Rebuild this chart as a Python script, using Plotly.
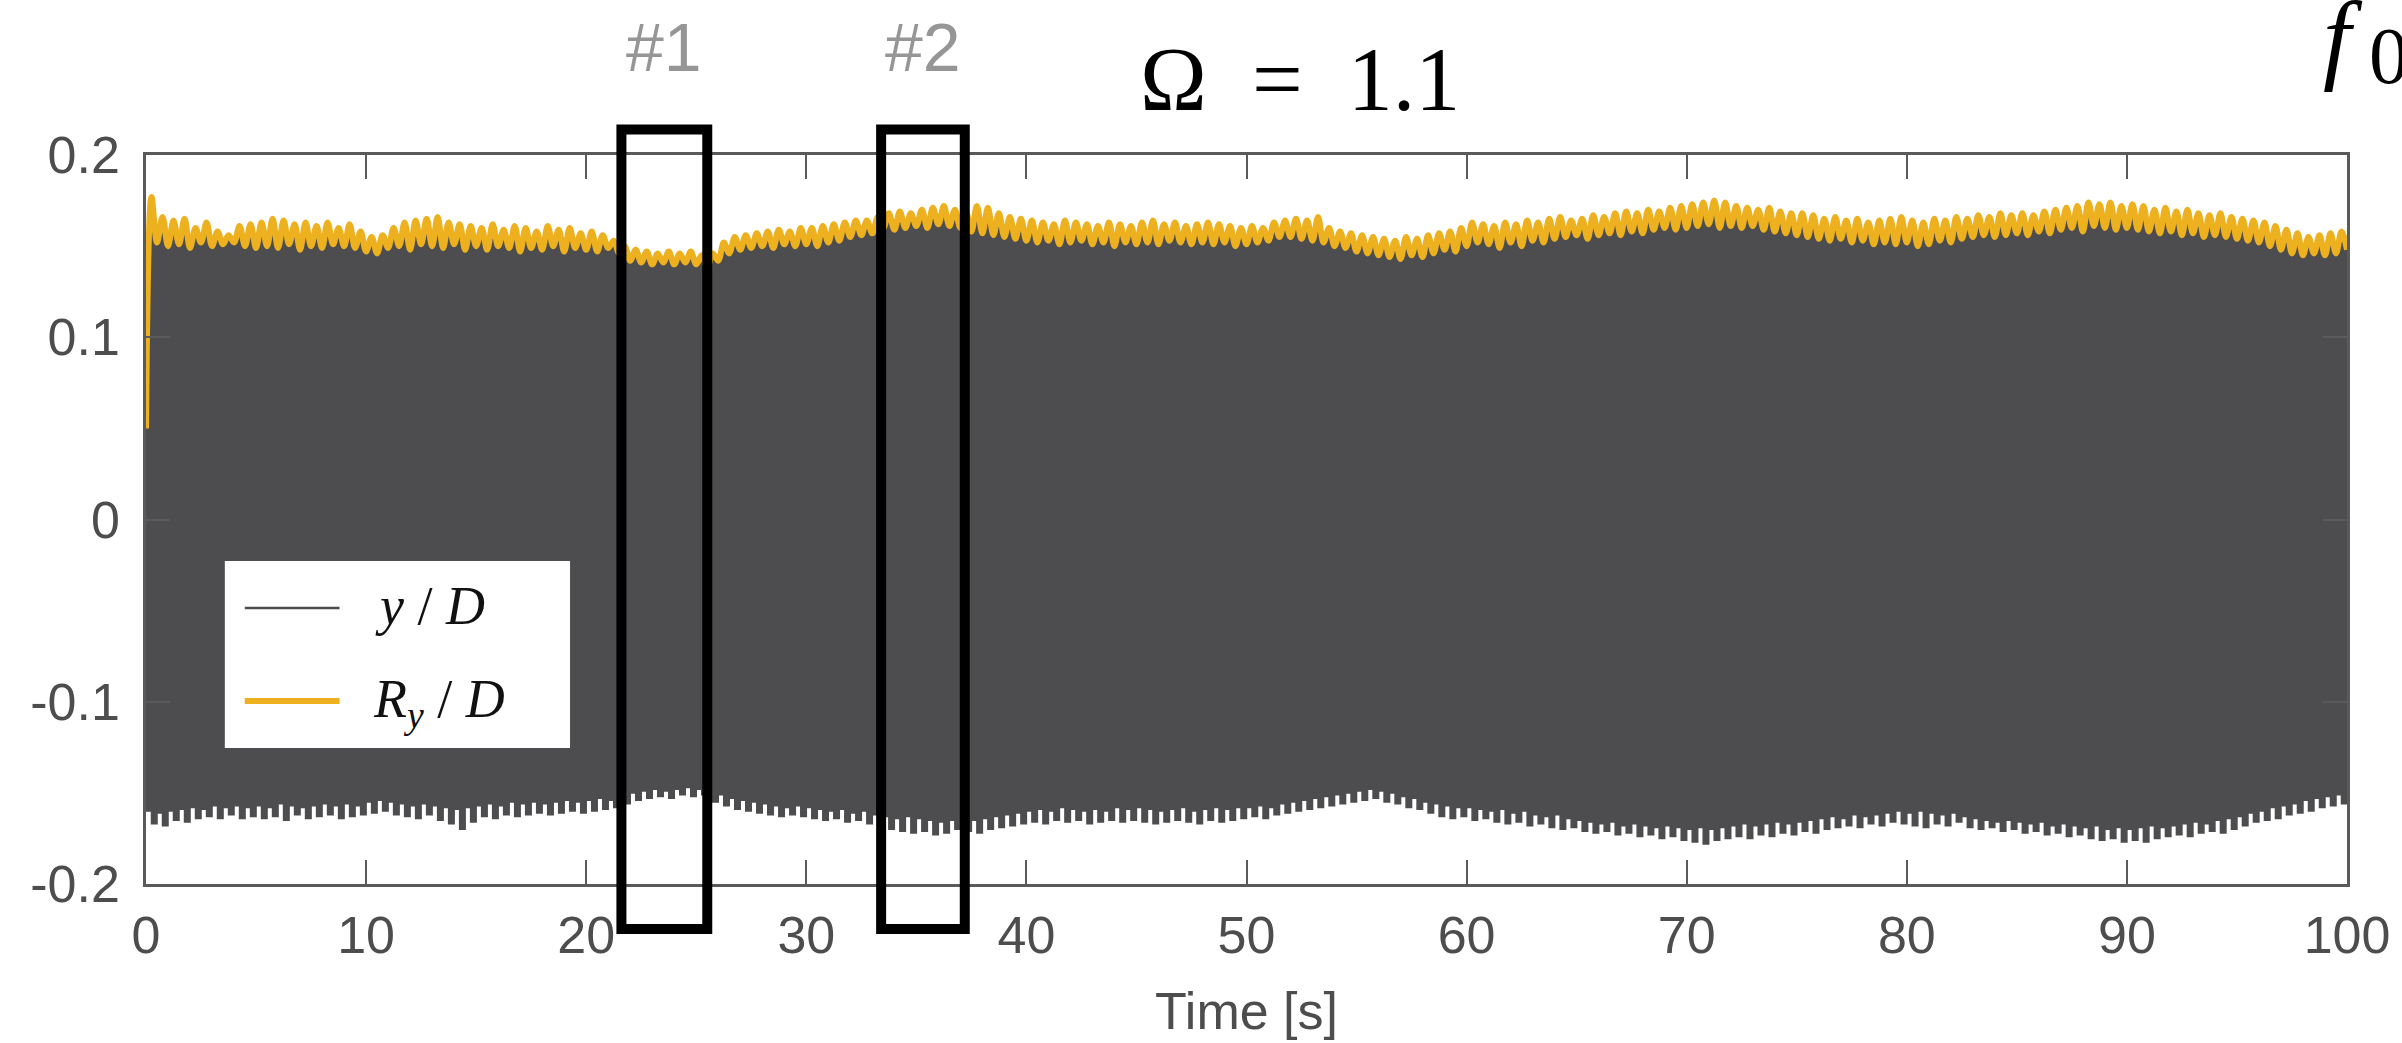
import plotly.graph_objects as go

# ---------------- data ----------------
sample_step_s = 0.25   # time step between the values below

# R_y/D : orange running-amplitude curve (one row = 5 s)
ry_over_d = [
    0.050, 0.177, 0.152, 0.166, 0.150, 0.164, 0.151, 0.165, 0.149, 0.160, 0.152, 0.163, 0.150, 0.158, 0.151, 0.156, 0.152, 0.161, 0.150, 0.162,
    0.149, 0.163, 0.150, 0.165, 0.149, 0.164, 0.151, 0.162, 0.148, 0.163, 0.150, 0.161, 0.149, 0.163, 0.151, 0.160, 0.150, 0.162, 0.149, 0.158,
    0.147, 0.155, 0.146, 0.156, 0.149, 0.160, 0.150, 0.163, 0.148, 0.164, 0.151, 0.165, 0.150, 0.166, 0.149, 0.163, 0.151, 0.162, 0.148, 0.161,
    0.150, 0.160, 0.148, 0.162, 0.150, 0.159, 0.149, 0.161, 0.147, 0.160, 0.149, 0.158, 0.148, 0.161, 0.150, 0.159, 0.147, 0.160, 0.149, 0.157,
    0.148, 0.158, 0.147, 0.156, 0.149, 0.153, 0.146, 0.150, 0.142, 0.148, 0.141, 0.147, 0.140, 0.146, 0.141, 0.147, 0.140, 0.146, 0.141, 0.147,
    0.140, 0.145, 0.138, 0.146, 0.142, 0.152, 0.146, 0.155, 0.148, 0.156, 0.149, 0.157, 0.150, 0.158, 0.149, 0.159, 0.151, 0.158, 0.150, 0.160,
    0.151, 0.160, 0.150, 0.161, 0.152, 0.162, 0.153, 0.163, 0.155, 0.164, 0.156, 0.164, 0.157, 0.166, 0.160, 0.168, 0.159, 0.169, 0.160, 0.168,
    0.161, 0.170, 0.160, 0.171, 0.162, 0.172, 0.161, 0.170, 0.160, 0.169, 0.158, 0.172, 0.157, 0.171, 0.156, 0.168, 0.155, 0.166, 0.154, 0.165,
    0.153, 0.164, 0.152, 0.163, 0.153, 0.162, 0.151, 0.164, 0.152, 0.163, 0.153, 0.162, 0.151, 0.161, 0.152, 0.163, 0.150, 0.162, 0.152, 0.161,
    0.151, 0.163, 0.152, 0.164, 0.151, 0.162, 0.153, 0.163, 0.152, 0.161, 0.151, 0.162, 0.152, 0.163, 0.151, 0.162, 0.152, 0.161, 0.150, 0.160,
    0.151, 0.161, 0.152, 0.160, 0.153, 0.163, 0.155, 0.164, 0.155, 0.165, 0.154, 0.164, 0.153, 0.166, 0.152, 0.160, 0.150, 0.158, 0.149, 0.157,
    0.147, 0.156, 0.146, 0.155, 0.145, 0.154, 0.144, 0.153, 0.143, 0.155, 0.145, 0.154, 0.144, 0.156, 0.146, 0.157, 0.148, 0.158, 0.147, 0.160,
    0.150, 0.163, 0.152, 0.162, 0.151, 0.161, 0.149, 0.163, 0.152, 0.162, 0.150, 0.164, 0.153, 0.163, 0.152, 0.165, 0.154, 0.166, 0.155, 0.164,
    0.156, 0.165, 0.154, 0.167, 0.156, 0.166, 0.157, 0.168, 0.156, 0.169, 0.158, 0.168, 0.157, 0.170, 0.159, 0.169, 0.160, 0.171, 0.159, 0.172,
    0.160, 0.173, 0.161, 0.174, 0.162, 0.175, 0.160, 0.174, 0.161, 0.172, 0.160, 0.171, 0.161, 0.170, 0.159, 0.171, 0.158, 0.169, 0.157, 0.168,
    0.156, 0.168, 0.155, 0.167, 0.154, 0.165, 0.153, 0.166, 0.154, 0.164, 0.152, 0.165, 0.153, 0.163, 0.151, 0.164, 0.152, 0.165, 0.151, 0.166,
    0.152, 0.164, 0.150, 0.163, 0.151, 0.165, 0.153, 0.164, 0.152, 0.166, 0.154, 0.165, 0.155, 0.167, 0.156, 0.166, 0.155, 0.168, 0.156, 0.167,
    0.157, 0.168, 0.156, 0.167, 0.158, 0.169, 0.157, 0.170, 0.159, 0.171, 0.160, 0.172, 0.158, 0.174, 0.161, 0.173, 0.160, 0.174, 0.159, 0.172,
    0.160, 0.173, 0.159, 0.172, 0.158, 0.170, 0.157, 0.171, 0.158, 0.169, 0.156, 0.170, 0.157, 0.168, 0.155, 0.167, 0.156, 0.168, 0.155, 0.166,
    0.154, 0.165, 0.153, 0.164, 0.152, 0.163, 0.150, 0.161, 0.148, 0.159, 0.146, 0.157, 0.145, 0.155, 0.146, 0.156, 0.145, 0.157, 0.146, 0.158,
    0.148,
]

# lower envelope of the y/D oscillation (one row = 5 s)
y_min_over_d = [
    -0.160, -0.167, -0.161, -0.168, -0.160, -0.165, -0.159, -0.166, -0.158, -0.164, -0.159, -0.163, -0.157, -0.164, -0.158, -0.162, -0.157, -0.164, -0.158, -0.163,
    -0.157, -0.164, -0.158, -0.163, -0.156, -0.165, -0.157, -0.162, -0.158, -0.164, -0.157, -0.163, -0.156, -0.162, -0.157, -0.164, -0.156, -0.163, -0.157, -0.162,
    -0.155, -0.161, -0.154, -0.160, -0.155, -0.162, -0.156, -0.163, -0.157, -0.164, -0.156, -0.162, -0.157, -0.165, -0.158, -0.167, -0.159, -0.170, -0.158, -0.166,
    -0.157, -0.163, -0.156, -0.164, -0.157, -0.162, -0.155, -0.163, -0.156, -0.162, -0.155, -0.161, -0.156, -0.162, -0.155, -0.161, -0.154, -0.160, -0.155, -0.161,
    -0.154, -0.160, -0.153, -0.159, -0.154, -0.158, -0.152, -0.156, -0.150, -0.154, -0.149, -0.153, -0.148, -0.152, -0.149, -0.153, -0.148, -0.151, -0.147, -0.152,
    -0.148, -0.151, -0.149, -0.155, -0.151, -0.157, -0.153, -0.159, -0.154, -0.160, -0.155, -0.161, -0.156, -0.162, -0.157, -0.163, -0.158, -0.162, -0.157, -0.163,
    -0.158, -0.164, -0.159, -0.165, -0.160, -0.164, -0.159, -0.166, -0.161, -0.165, -0.160, -0.167, -0.162, -0.168, -0.163, -0.170, -0.164, -0.171, -0.163, -0.172,
    -0.164, -0.171, -0.165, -0.173, -0.166, -0.172, -0.165, -0.170, -0.164, -0.171, -0.165, -0.172, -0.164, -0.170, -0.163, -0.169, -0.162, -0.168, -0.161, -0.167,
    -0.160, -0.166, -0.159, -0.167, -0.160, -0.165, -0.158, -0.166, -0.159, -0.165, -0.160, -0.167, -0.159, -0.166, -0.160, -0.165, -0.158, -0.166, -0.159, -0.165,
    -0.158, -0.166, -0.159, -0.167, -0.160, -0.166, -0.159, -0.165, -0.158, -0.166, -0.160, -0.167, -0.159, -0.165, -0.158, -0.166, -0.159, -0.165, -0.158, -0.164,
    -0.158, -0.163, -0.157, -0.164, -0.158, -0.162, -0.156, -0.161, -0.155, -0.160, -0.154, -0.159, -0.153, -0.158, -0.152, -0.157, -0.151, -0.156, -0.150, -0.155,
    -0.149, -0.154, -0.148, -0.153, -0.149, -0.155, -0.150, -0.156, -0.152, -0.158, -0.153, -0.159, -0.155, -0.161, -0.156, -0.163, -0.157, -0.164, -0.158, -0.163,
    -0.158, -0.165, -0.159, -0.164, -0.160, -0.166, -0.159, -0.167, -0.161, -0.166, -0.160, -0.168, -0.162, -0.167, -0.163, -0.169, -0.162, -0.170, -0.164, -0.169,
    -0.165, -0.171, -0.166, -0.172, -0.167, -0.171, -0.166, -0.173, -0.168, -0.172, -0.167, -0.174, -0.168, -0.173, -0.169, -0.175, -0.168, -0.174, -0.169, -0.176,
    -0.170, -0.177, -0.169, -0.178, -0.170, -0.176, -0.169, -0.175, -0.168, -0.174, -0.167, -0.175, -0.168, -0.173, -0.167, -0.174, -0.166, -0.172, -0.167, -0.173,
    -0.166, -0.171, -0.165, -0.172, -0.164, -0.170, -0.163, -0.169, -0.164, -0.168, -0.162, -0.169, -0.163, -0.167, -0.162, -0.168, -0.161, -0.166, -0.160, -0.167,
    -0.161, -0.168, -0.160, -0.169, -0.161, -0.167, -0.162, -0.168, -0.161, -0.166, -0.163, -0.169, -0.164, -0.170, -0.165, -0.169, -0.166, -0.171, -0.165, -0.170,
    -0.166, -0.172, -0.167, -0.171, -0.166, -0.173, -0.168, -0.172, -0.167, -0.174, -0.168, -0.173, -0.169, -0.175, -0.168, -0.176, -0.170, -0.175, -0.169, -0.177,
    -0.170, -0.176, -0.169, -0.177, -0.168, -0.175, -0.169, -0.174, -0.168, -0.173, -0.167, -0.174, -0.166, -0.172, -0.167, -0.171, -0.165, -0.172, -0.164, -0.170,
    -0.163, -0.168, -0.161, -0.166, -0.160, -0.165, -0.158, -0.164, -0.157, -0.162, -0.156, -0.161, -0.154, -0.160, -0.153, -0.158, -0.152, -0.157, -0.151, -0.156,
    -0.150,
]

time_s = [round(i * sample_step_s, 2) for i in range(len(ry_over_d))]

x_tick_vals = [0, 10, 20, 30, 40, 50, 60, 70, 80, 90, 100]
y_tick_vals = [-0.2, -0.1, 0, 0.1, 0.2]
y_tick_text = ["-0.2", "-0.1", "0", "0.1", "0.2"]

window_labels = ["#1", "#2"]
window_start_s = [21.6, 33.4]
window_end_s = [25.5, 37.2]

title_text = "Ω\u2002=\u20021.1"
x_title = "Time [s]"

# ---------------- styles ----------------
DARK = "#4d4d4f"
ORANGE = "#EDB120"
AXIS = "#5a5a5a"
LABEL = "#4d4d4d"
SANS = "Liberation Sans, Arial, Helvetica, sans-serif"
SERIF = "Liberation Serif, Times New Roman, serif"

W, H = 2402, 1043
ML, MR, MT, MB = 146, 50, 155, 159
PW, PH = W - ML - MR, H - MT - MB


def px(xpix):
    return (xpix - ML) / PW


def py(ypix):
    return (H - MB - ypix) / PH


fig = go.Figure()

fig.add_trace(go.Scatter(
    x=time_s, y=y_min_over_d, mode="lines",
    line=dict(color=DARK, width=1.5, shape="hv"), showlegend=False, hoverinfo="skip",
))
fig.add_trace(go.Scatter(
    x=time_s, y=ry_over_d, mode="lines", name="y/D",
    line=dict(color=DARK, width=0, shape="spline", smoothing=1.0),
    fill="tonexty", fillcolor=DARK, showlegend=False,
))
fig.add_trace(go.Scatter(
    x=time_s, y=ry_over_d, mode="lines", name="R_y/D",
    line=dict(color=ORANGE, width=6, shape="spline", smoothing=1.0), showlegend=False,
))

shapes = []
annotations = []

# measurement windows
for lab, x0, x1 in zip(window_labels, window_start_s, window_end_s):
    shapes.append(dict(type="rect", xref="x", yref="paper", x0=x0, x1=x1,
                       y0=py(929), y1=py(129.5),
                       line=dict(color="black", width=10), fillcolor="rgba(0,0,0,0)",
                       layer="above"))
    annotations.append(dict(xref="x", yref="paper", x=(x0 + x1) / 2, y=py(47),
                            text=lab, showarrow=False, xanchor="center", yanchor="middle",
                            font=dict(family=SANS, size=68, color="#969696")))

# manual legend (long line samples as in the reference)
shapes.append(dict(type="rect", xref="paper", yref="paper",
                   x0=px(225), x1=px(571), y0=py(748), y1=py(561),
                   line=dict(width=0), fillcolor="white", layer="above"))
shapes.append(dict(type="line", xref="paper", yref="paper",
                   x0=px(245), x1=px(340), y0=py(608), y1=py(608),
                   line=dict(color=DARK, width=2.5), layer="above"))
shapes.append(dict(type="line", xref="paper", yref="paper",
                   x0=px(245), x1=px(340), y0=py(701), y1=py(701),
                   line=dict(color=ORANGE, width=6), layer="above"))
annotations.append(dict(xref="paper", yref="paper", x=px(374), y=py(606),
                        text="<i>y</i> / <i>D</i>", showarrow=False,
                        xanchor="left", yanchor="middle",
                        font=dict(family=SERIF, size=54, color="#111111")))
annotations.append(dict(xref="paper", yref="paper", x=px(372), y=py(702),
                        text="<i>R</i><sub><i>y</i></sub> / <i>D</i>", showarrow=False,
                        xanchor="left", yanchor="middle",
                        font=dict(family=SERIF, size=54, color="#111111")))

# title
annotations.append(dict(xref="paper", yref="paper", x=px(1303), y=py(80),
                        text=title_text, showarrow=False,
                        xanchor="center", yanchor="middle",
                        font=dict(family=SERIF, size=90, color="black")))
# clipped neighbouring title "f0"
annotations.append(dict(xref="paper", yref="paper", x=px(2326), y=py(37),
                        text="<i>f</i>", showarrow=False,
                        xanchor="left", yanchor="middle",
                        font=dict(family=SERIF, size=100, color="black")))
annotations.append(dict(xref="paper", yref="paper", x=px(2372), y=py(56),
                        text="0", showarrow=False,
                        xanchor="left", yanchor="middle",
                        font=dict(family=SERIF, size=80, color="black")))

fig.update_layout(
    width=W, height=H,
    margin=dict(l=ML, r=MR, t=MT, b=MB, pad=0),
    paper_bgcolor="white", plot_bgcolor="white",
    showlegend=False,
    shapes=shapes, annotations=annotations,
    xaxis=dict(
        range=[0, 100], tickvals=x_tick_vals, ticks="inside", ticklen=24,
        tickwidth=2, tickcolor=AXIS, showline=True, linecolor=AXIS, linewidth=2.5,
        mirror="ticks", showgrid=False, zeroline=False,
        tickfont=dict(family=SANS, size=52, color=LABEL), ticklabelstandoff=4,
        title=dict(text=x_title, font=dict(family=SANS, size=52, color=LABEL), standoff=30),
    ),
    yaxis=dict(
        range=[-0.2, 0.2], tickvals=y_tick_vals, ticktext=y_tick_text,
        ticks="inside", ticklen=24, tickwidth=2, tickcolor=AXIS,
        showline=True, linecolor=AXIS, linewidth=2.5, mirror="ticks",
        showgrid=False, zeroline=False,
        tickfont=dict(family=SANS, size=52, color=LABEL), ticklabelstandoff=13,
    ),
)

fig.write_html("out.html")
